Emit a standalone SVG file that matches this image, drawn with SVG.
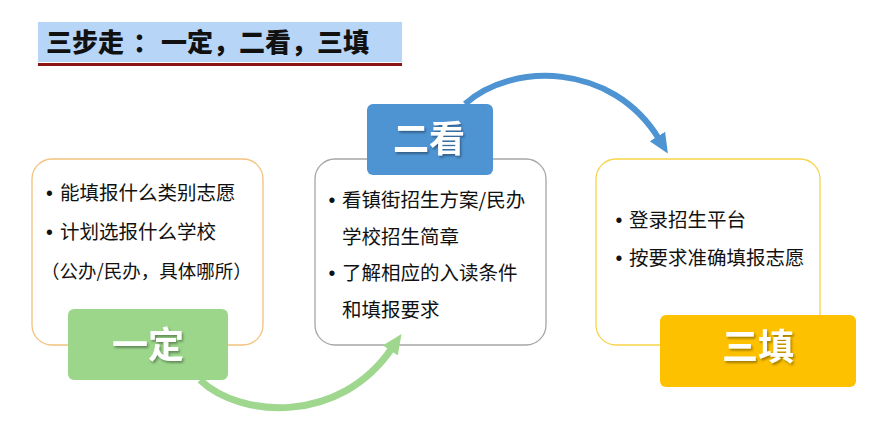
<svg xmlns="http://www.w3.org/2000/svg" width="883" height="441" viewBox="0 0 883 441">
<style>
.t{font-family:"Noto Sans CJK SC","Noto Sans",sans-serif;fill:#111}
.body{font-size:19.5px}
.bul{font-family:"Liberation Sans",Arial,sans-serif;font-size:19.5px;fill:#111}
.title{font-size:26px;font-weight:900}
.lbl{font-family:"Noto Sans CJK SC","Noto Sans",sans-serif;font-size:36px;font-weight:bold;fill:#fff;text-anchor:middle}
.box{fill:#fff;stroke-width:1.3}
</style>
<defs>
<filter id="sh" x="-20%" y="-20%" width="140%" height="140%">
<feDropShadow dx="1.5" dy="2" stdDeviation="1" flood-color="#000" flood-opacity="0.35"/>
</filter>
<marker id="ahG" markerUnits="userSpaceOnUse" markerWidth="22" markerHeight="20" refX="3" refY="9" orient="auto">
<path d="M0,0 L20,9 L0,18 z" fill="#9fd78f"/>
</marker>
<marker id="ahB" markerUnits="userSpaceOnUse" markerWidth="22" markerHeight="20" refX="3" refY="9" orient="auto">
<path d="M0,0 L20,9 L0,18 z" fill="#4e94d3"/>
</marker>
</defs>
<rect width="883" height="441" fill="#fff"/>
<g id="title">
<rect x="38" y="22" width="364" height="40" fill="#b7d5f7"/>
<line x1="38" y1="64.5" x2="402" y2="64.5" stroke="#8b1414" stroke-width="3"/>
<text class="t title" y="52"><tspan x="46">三步走</tspan><tspan x="133">：</tspan><tspan x="161">一定</tspan><tspan x="213">，</tspan><tspan x="239">二看</tspan><tspan x="291">，</tspan><tspan x="317">三填</tspan></text>
</g>
<g id="box1">
<rect class="box" x="32" y="159" width="231" height="186" rx="20" stroke="#f2c27f"/>
<text class="bul" x="46" y="200">•</text>
<text class="t body" x="60" y="200">能填报什么类别志愿</text>
<text class="bul" x="46" y="239">•</text>
<text class="t body" x="60" y="239">计划选报什么学校</text>
<text class="t body" x="41" y="278" style="font-size:18.5px">（公办/民办，具体哪所）</text>
</g>
<g id="box2">
<rect class="box" x="315" y="159" width="231" height="186" rx="20" stroke="#a6a6a6"/>
<text class="bul" x="328.5" y="207">•</text>
<text class="t body" x="342" y="207">看镇街招生方案/民办</text>
<text class="t body" x="342" y="244">学校招生简章</text>
<text class="bul" x="328.5" y="280">•</text>
<text class="t body" x="342" y="280">了解相应的入读条件</text>
<text class="t body" x="342" y="317">和填报要求</text>
</g>
<g id="box3">
<rect class="box" x="596" y="159" width="224" height="186" rx="20" stroke="#f7d34a"/>
<text class="bul" x="615.5" y="227">•</text>
<text class="t body" x="629" y="227">登录招生平台</text>
<text class="bul" x="615.5" y="265">•</text>
<text class="t body" x="629" y="265">按要求准确填报志愿</text>
</g>
<g id="connectors" fill="none">
<path d="M200,380 C240,418 340,425 392,348" stroke="#9fd78f" stroke-width="7" marker-end="url(#ahG)"/>
<path d="M465,104 C512,62 612,62 659,139" stroke="#4e94d3" stroke-width="6" marker-end="url(#ahB)"/>
</g>
<g id="label-yiding">
<rect x="68" y="309" width="160" height="71" rx="6" fill="#9bd68a"/>
<text class="lbl" x="148" y="358" filter="url(#sh)">一定</text>
</g>
<g id="label-erkan">
<rect x="367" y="104" width="126" height="71" rx="6" fill="#4e94d3"/>
<text class="lbl" x="429" y="152" filter="url(#sh)">二看</text>
</g>
<g id="label-santian">
<rect x="660" y="315" width="196" height="72" rx="6" fill="#fdc100"/>
<text class="lbl" x="758" y="360" filter="url(#sh)">三填</text>
</g>
</svg>
